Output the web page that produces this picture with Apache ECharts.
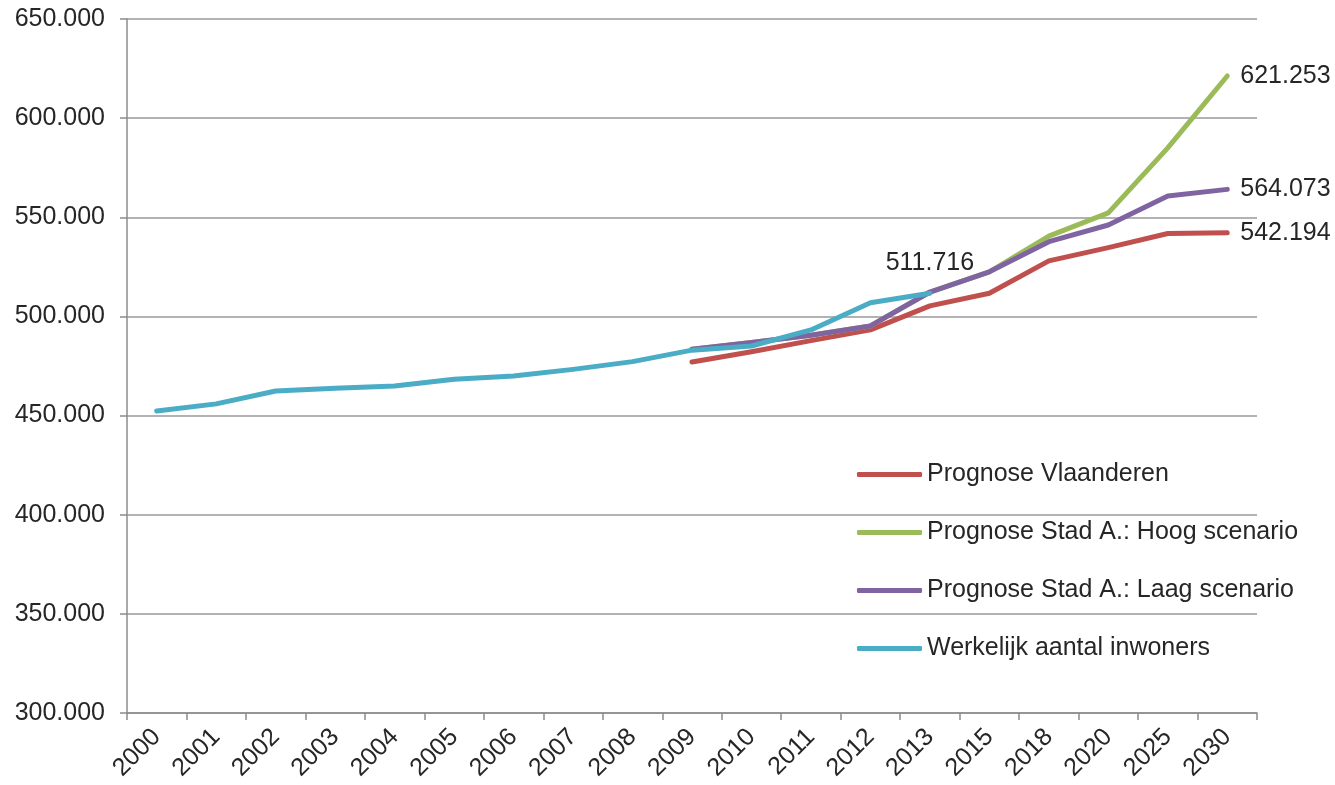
<!DOCTYPE html>
<html>
<head>
<meta charset="utf-8">
<script src="https://cdn.jsdelivr.net/npm/echarts@6/dist/echarts.min.js"></script>
<style>html,body{margin:0;padding:0;background:#fff;}#c{width:1335px;height:785px;}</style>
</head>
<body>
<div id="c"></div>
<script>
const years = ['2000','2001','2002','2003','2004','2005','2006','2007','2008','2009','2010','2011','2012','2013','2015','2018','2020','2025','2030'];
const vlaanderen = [null,null,null,null,null,null,null,null,null,477000,482200,487800,493200,505300,511700,528000,534700,541800,542194];
const hoog = [null,null,null,null,null,null,null,null,null,483400,486800,490500,495200,512300,522500,540500,552200,585000,621253];
const laag = [null,null,null,null,null,null,null,null,null,483400,486800,490500,495200,512300,522500,537700,546100,560700,564073];
const werkelijk = [452300,455900,462400,463800,464900,468300,470000,473300,477200,483000,485100,493200,506900,511716,null,null,null,null,null];
const names = ['Prognose Vlaanderen','Prognose Stad A.: Hoog scenario','Prognose Stad A.: Laag scenario','Werkelijk aantal inwoners'];
const colors = ['#C0504D','#9BBB59','#8064A2','#4BACC6'];

function fmt(v){ return String(v).replace(/\B(?=(\d{3})+(?!\d))/g,'.'); }
const font = 'Liberation Sans, Arial, sans-serif';
const txt = '#262626';
const fs = 25;

function mkSeries(i, data, labelIdx, pos){
  return {
    name: names[i], type:'line', data: data.map((v,k)=> k===labelIdx ? {value:v, label:{show:true}} : v),
    showSymbol:true, symbol:'circle', symbolSize:0, connectNulls:false,
    itemStyle:{color:colors[i]},
    lineStyle:{width:5, color:colors[i], cap:'round', join:'round'},
    label:{show:false, position:pos, distance: pos==='right'?13:18, formatter:p=>fmt(p.value), color:txt, fontSize:fs, fontFamily:font, lineHeight:24},
    emphasis:{disabled:true}, animation:false, z: 2+i
  };
}

const chart = echarts.init(document.getElementById('c'));
chart.setOption({
  backgroundColor:'#fff',
  animation:false,
  grid:{left:127, right:78, top:19, bottom:72, containLabel:false},
  legend:{
    orient:'vertical', left:852, top:457, itemWidth:65, itemHeight:5, itemGap:33,
    icon:'roundRect',
    data:names,
    textStyle:{fontSize:fs, color:txt, fontFamily:font, lineHeight:24}
  },
  xAxis:{
    type:'category', data:years, boundaryGap:true,
    axisLine:{lineStyle:{color:'#8c8c8c', width:1.5}},
    axisTick:{show:true, length:7, lineStyle:{color:'#8c8c8c', width:1.5}},
    axisLabel:{rotate:45, fontSize:fs, color:txt, fontFamily:font, margin:20, interval:0}
  },
  yAxis:{
    type:'value', min:300000, max:650000, interval:50000,
    axisLine:{show:true, lineStyle:{color:'#8c8c8c', width:1.5}},
    axisTick:{show:true, length:7, lineStyle:{color:'#8c8c8c', width:1.5}},
    splitLine:{lineStyle:{color:'#999', width:1.5}},
    axisLabel:{fontSize:fs, color:txt, fontFamily:font, margin:22, formatter:v=>fmt(v)}
  },
  series:[
    mkSeries(0, vlaanderen, 18, 'right'),
    mkSeries(1, hoog, 18, 'right'),
    mkSeries(2, laag, 18, 'right'),
    mkSeries(3, werkelijk, 13, 'top')
  ]
});
</script>
</body>
</html>
